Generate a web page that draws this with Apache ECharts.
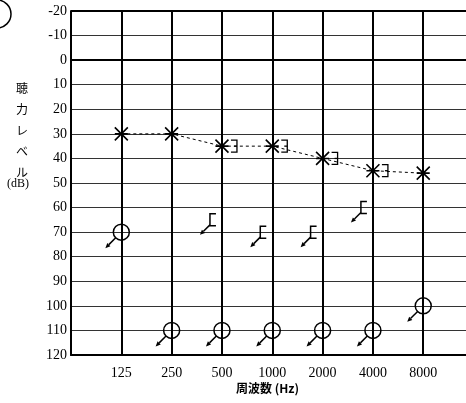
<!DOCTYPE html>
<html>
<head>
<meta charset="utf-8">
<script src="https://cdn.jsdelivr.net/npm/echarts@6/dist/echarts.min.js"></script>
<style>
html, body { margin: 0; padding: 0; background: #fff; }
#echart { width: 466px; height: 403px; }
</style>
</head>
<body>
<div id="echart"></div>
<script>
// 周波数 (Hz)
var freqLabels = ['125', '250', '500', '1000', '2000', '4000', '8000'];
// 左耳 気導 (X)
var leftAir = [30, 30, 35, 35, 40, 45, 46];
// 左耳 骨導 マスキングあり (])
var leftBone = [null, null, 35, 35, 40, 45, null];
// 右耳 気導 スケールアウト (O + arrow)
var rightAirNR = [70, 110, 110, 110, 110, 110, 100];
// 右耳 骨導 マスキングあり スケールアウト ([ + arrow)
var rightBoneNR = [null, null, 65, 70, 70, 60, null];

var myChart = echarts.init(document.getElementById('echart'));

function toPoints(arr) {
    var out = [];
    for (var i = 0; i < arr.length; i++) {
        if (arr[i] != null) out.push([i + 1, arr[i]]);
    }
    return out;
}

function arrow(x1, y1, x2, y2) {
    // down-left arrow with a small filled head
    var dx = x2 - x1, dy = y2 - y1;
    var len = Math.sqrt(dx * dx + dy * dy);
    var ux = dx / len, uy = dy / len;
    var bx = x2 - ux * 5, by = y2 - uy * 5;
    return [
        { type: 'line', shape: { x1: x1, y1: y1, x2: bx, y2: by }, style: { stroke: '#000', lineWidth: 1.5 } },
        { type: 'polygon', shape: { points: [[x2, y2], [bx - uy * 2.2, by + ux * 2.2], [bx + uy * 2.2, by - ux * 2.2]] }, style: { fill: '#000' } }
    ];
}

function renderCircleNR(params, api) {
    var p = api.coord([api.value(0), api.value(1)]);
    var r = 8;
    var children = [
        { type: 'circle', shape: { cx: p[0], cy: p[1], r: r }, style: { fill: 'none', stroke: '#000', lineWidth: 1.5 } }
    ];
    children = children.concat(arrow(p[0] - r * 0.7, p[1] + r * 0.7, p[0] - 16, p[1] + 16));
    return { type: 'group', children: children };
}

function renderBracketNR(params, api) {
    var p = api.coord([api.value(0), api.value(1)]);
    var bx = p[0] - 12, by = p[1];
    var children = [
        { type: 'polyline', shape: { points: [[bx + 6, by - 6], [bx, by - 6], [bx, by + 6], [bx + 6, by + 6]] }, style: { fill: 'none', stroke: '#000', lineWidth: 1.5 } }
    ];
    children = children.concat(arrow(bx, by + 5, bx - 10, by + 15));
    return { type: 'group', children: children };
}

function renderBracketL(params, api) {
    var p = api.coord([api.value(0), api.value(1)]);
    var bx = p[0] + 13, by = p[1];
    return {
        type: 'group',
        children: [
            { type: 'polyline', shape: { points: [[bx - 4, by - 6], [bx + 2, by - 6], [bx + 2, by + 6], [bx - 4, by + 6]] }, style: { fill: 'none', stroke: '#000', lineWidth: 1.3 } },
            { type: 'line', shape: { x1: bx - 1, y1: by, x2: bx + 2, y2: by }, style: { stroke: '#000', lineWidth: 1.3 } }
        ]
    };
}

// vertical frequency lines
var freqLines = [];
for (var i = 0; i < freqLabels.length; i++) freqLines.push({ xAxis: i + 1 });

var option = {
    backgroundColor: '#fff',
    animation: false,
    grid: { left: 71, top: 11, bottom: 48, right: 0, containLabel: false },
    xAxis: {
        type: 'value',
        min: 0,
        max: 7.85,
        interval: 1,
        position: 'bottom',
        axisLine: { show: true, onZero: false, lineStyle: { color: '#000', width: 2 } },
        axisTick: { show: false },
        axisLabel: {
            color: '#000',
            fontFamily: 'Liberation Serif, DejaVu Serif, serif',
            fontSize: 14,
            margin: 11,
            showMaxLabel: false,
            formatter: function (v) {
                var i = Math.round(v);
                if (Math.abs(i - v) > 1e-6 || i < 1 || i > 7) return '';
                return freqLabels[i - 1];
            }
        },
        splitLine: { show: false }
    },
    yAxis: {
        type: 'value',
        inverse: true,
        min: -20,
        max: 120,
        interval: 10,
        axisLine: { show: true, lineStyle: { color: '#000', width: 2 } },
        axisTick: { show: false },
        axisLabel: {
            color: '#000',
            fontFamily: 'Liberation Serif, DejaVu Serif, serif',
            fontSize: 14,
            margin: 4
        },
        splitLine: { show: true, lineStyle: { color: '#333', width: 1 } }
    },
    graphic: [
        { type: 'circle', shape: { cx: -3, cy: 14, r: 14 }, style: { fill: 'none', stroke: '#000', lineWidth: 1.5 } },
        {
            type: 'text', left: 16, top: 78,
            style: { text: '聴\n力\nレ\nベ\nル', font: '12px "Noto Sans CJK JP"', lineHeight: 21, fill: '#000', textAlign: 'center' }
        },
        {
            type: 'text', left: 7, top: 178,
            style: { text: '(dB)', font: '12px "Liberation Serif"', fill: '#000' }
        },
        {
            type: 'text', left: 236, top: 382,
            style: { text: '周波数 (Hz)', font: 'bold 12px "Noto Sans CJK JP"', fill: '#000' }
        }
    ],
    series: [
        {
            name: '左 気導',
            type: 'line',
            data: toPoints(leftAir),
            symbol: 'path://M0,0L10,10M10,0L0,10M0,5L10,5',
            symbolSize: 13,
            itemStyle: { color: '#000', borderColor: '#000', borderWidth: 1.6 },
            lineStyle: { color: '#000', width: 1, type: [3, 3] },
            markLine: {
                silent: true,
                symbol: 'none',
                label: { show: false },
                lineStyle: { color: '#000', width: 2, type: 'solid' },
                data: [{ yAxis: -20 }, { yAxis: 0 }].concat(freqLines)
            },
            z: 5
        },
        {
            name: '左 骨導',
            type: 'custom',
            renderItem: renderBracketL,
            data: toPoints(leftBone),
            z: 6
        },
        {
            name: '右 気導',
            type: 'custom',
            renderItem: renderCircleNR,
            data: toPoints(rightAirNR),
            z: 6
        },
        {
            name: '右 骨導',
            type: 'custom',
            renderItem: renderBracketNR,
            data: toPoints(rightBoneNR),
            z: 6
        }
    ]
};
myChart.setOption(option);
</script>
</body>
</html>
